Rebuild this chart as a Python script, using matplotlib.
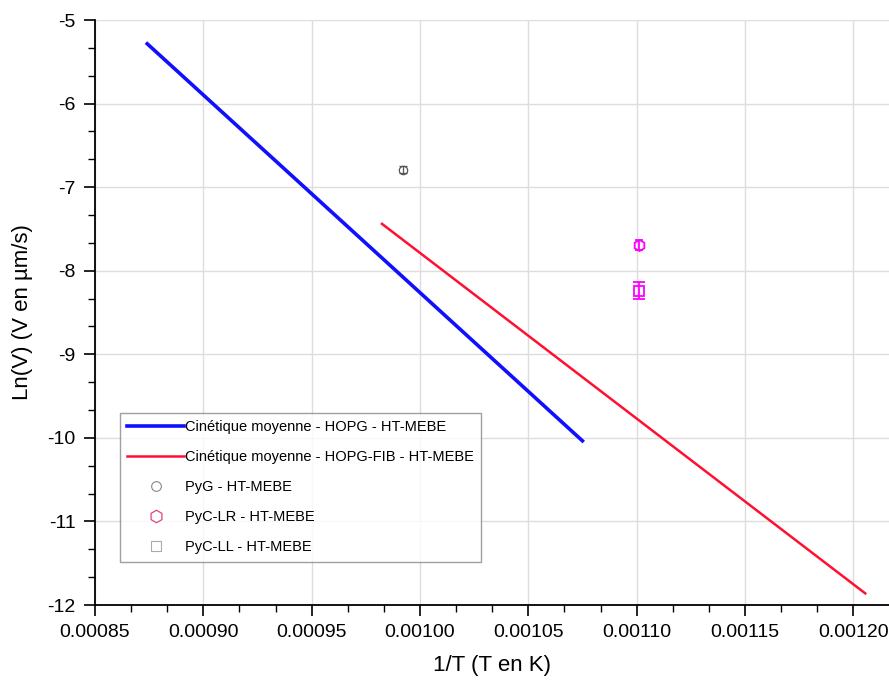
import matplotlib
matplotlib.use("Agg")
import matplotlib.pyplot as plt
from matplotlib.ticker import AutoMinorLocator, MultipleLocator, FormatStrFormatter
from matplotlib.lines import Line2D

# Kinetic fits (endpoints of each straight line)
hopg_x = [0.0008735, 0.0010756]
hopg_y = [-5.27, -10.05]
fib_x = [0.000982, 0.001206]
fib_y = [-7.43, -11.87]

# Measured points with error bars
pyg_x, pyg_y, pyg_err = [0.000992], [-6.79], [0.04]
pyc_lr_x, pyc_lr_y, pyc_lr_err = [0.001101], [-7.69], [0.06]
pyc_ll_x, pyc_ll_y, pyc_ll_err = [0.001101], [-8.24], [0.10]

labels = [
    "Cinétique moyenne - HOPG - HT-MEBE",
    "Cinétique moyenne - HOPG-FIB - HT-MEBE",
    "PyG - HT-MEBE",
    "PyC-LR - HT-MEBE",
    "PyC-LL - HT-MEBE",
]

plt.rcParams["font.family"] = ["Liberation Sans", "DejaVu Sans"]
plt.rcParams["axes.unicode_minus"] = False

fig = plt.figure(figsize=(8.89, 6.84), dpi=100)
ax = fig.add_axes([95 / 889, 1 - 605 / 684, 794 / 889, 585 / 684])

ax.plot(hopg_x, hopg_y, color="#1010ff", linewidth=2.6, solid_capstyle="butt")
ax.plot(fib_x, fib_y, color="#ff1030", linewidth=1.8, solid_capstyle="butt")

ax.errorbar(pyg_x, pyg_y, yerr=pyg_err, fmt="o", mfc="none", mec="#555555",
            ecolor="#555555", ms=6, mew=0.9, capsize=3, elinewidth=0.9)
ax.errorbar(pyc_lr_x, pyc_lr_y, yerr=pyc_lr_err, fmt="h", mfc="none", mec="#ff00ff",
            ecolor="#ff00ff", ms=8, mew=1.3, capsize=3, elinewidth=1.3)
ax.errorbar(pyc_ll_x, pyc_ll_y, yerr=pyc_ll_err, fmt="s", mfc="none", mec="#ff00ff",
            ecolor="#ff00ff", ms=7, mew=1.3, capsize=4, elinewidth=1.3)

ax.set_xlim(0.00085, 0.0012165)
ax.set_ylim(-12, -5)
ax.xaxis.set_major_locator(MultipleLocator(0.00005))
ax.xaxis.set_major_formatter(FormatStrFormatter("%.5f"))
ax.yaxis.set_major_locator(MultipleLocator(1))
ax.xaxis.set_minor_locator(AutoMinorLocator(3))
ax.yaxis.set_minor_locator(AutoMinorLocator(3))

ax.grid(True, which="major", color="#dddddd", linewidth=1.0)
ax.set_axisbelow(True)
for side in ["top", "right"]:
    ax.spines[side].set_visible(False)
for side in ["left", "bottom"]:
    ax.spines[side].set_linewidth(1.3)
ax.tick_params(which="major", direction="out", length=8, width=1.2, labelsize=14, pad=6)
ax.tick_params(which="minor", direction="out", length=5, width=1.0)

ax.set_xlabel("1/T (T en K)", fontsize=16, labelpad=10)
ax.set_ylabel("Ln(V) (V en µm/s)", fontsize=16, labelpad=10)

handles = [
    Line2D([], [], color="#1010ff", linewidth=2.6),
    Line2D([], [], color="#ff1030", linewidth=1.8),
    Line2D([], [], linestyle="none", marker="o", mfc="none", mec="#888888", ms=7, mew=0.8),
    Line2D([], [], linestyle="none", marker="h", mfc="none", mec="#dd4488", ms=9, mew=0.9),
    Line2D([], [], linestyle="none", marker="s", mfc="none", mec="#aaaaaa", ms=7, mew=0.8),
]
leg = ax.legend(handles, labels, loc="upper left", bbox_to_anchor=(25 / 794, 192 / 585),
                fontsize=10.5, frameon=True, fancybox=False, edgecolor="#888888",
                labelspacing=1.1, handlelength=3.9, handletextpad=0.05,
                borderpad=0.5, borderaxespad=0)
leg.get_frame().set_linewidth(1.0)

fig.savefig("out.png", dpi=100)
